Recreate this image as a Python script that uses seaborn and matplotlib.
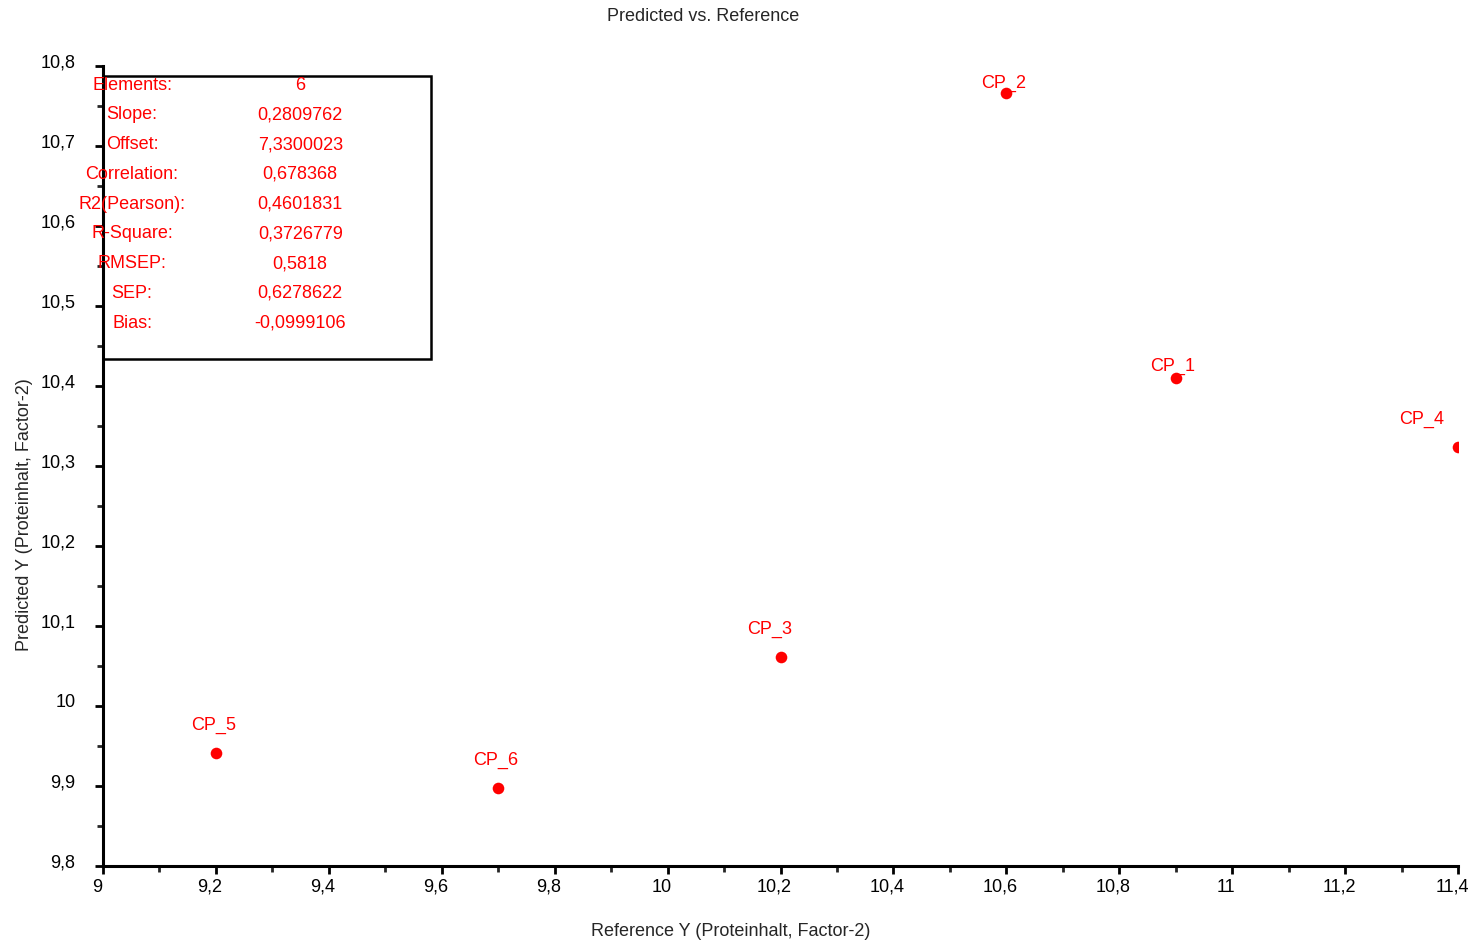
import numpy as np
import pandas as pd
import seaborn as sns
import matplotlib.pyplot as plt
import matplotlib.transforms as mtransforms
from matplotlib.patches import Rectangle
from matplotlib.ticker import FuncFormatter, MultipleLocator

# Sample values
samples = ['CP_1', 'CP_2', 'CP_3', 'CP_4', 'CP_5', 'CP_6']
reference_y = [10.9, 10.6, 10.2, 11.4, 9.2, 9.7]
predicted_y = [10.41, 10.766, 10.061, 10.324, 9.941, 9.8975]

# Statistics box
stat_names = ['Elements:', 'Slope:', 'Offset:', 'Correlation:', 'R2(Pearson):',
              'R-Square:', 'RMSEP:', 'SEP:', 'Bias:']
stat_values = ['6', '0,2809762', '7,3300023', '0,678368', '0,4601831',
               '0,3726779', '0,5818', '0,6278622', '-0,0999106']

df = pd.DataFrame({'ref': reference_y, 'pred': predicted_y, 'name': samples})

sns.set_style('ticks')
plt.rcParams['font.family'] = ['Liberation Sans', 'DejaVu Sans']

fig = plt.figure(figsize=(14.72, 9.41), dpi=100)
ax = fig.add_axes([0.0700, 0.0797, 0.9205, 0.8502])

sns.scatterplot(data=df, x='ref', y='pred', color='red', s=70,
                edgecolor='red', linewidth=0, ax=ax, zorder=3)

# label offsets in points (label placement, not data)
label_offsets = {'CP_1': (-2, 8), 'CP_2': (-2, 7), 'CP_3': (-8, 20), 'CP_4': (-26, 20),
                 'CP_5': (-2, 20), 'CP_6': (-2, 20)}
for _, row in df.iterrows():
    dx, dy = label_offsets[row['name']]
    ax.annotate(row['name'], (row['ref'], row['pred']), xytext=(dx, dy),
                textcoords='offset points', ha='center', va='center',
                color='red', fontsize=13)

ax.set_xlim(9, 11.4)
ax.set_ylim(9.8, 10.8)
ax.xaxis.set_major_locator(MultipleLocator(0.2))
ax.xaxis.set_minor_locator(MultipleLocator(0.1))
ax.yaxis.set_major_locator(MultipleLocator(0.1))
ax.yaxis.set_minor_locator(MultipleLocator(0.05))
comma = FuncFormatter(lambda v, p: ('%g' % round(v, 3)).replace('.', ','))
ax.xaxis.set_major_formatter(comma)
ax.yaxis.set_major_formatter(comma)

sns.despine(ax=ax)
for side in ['left', 'bottom']:
    ax.spines[side].set_linewidth(2.2)
    ax.spines[side].set_color('black')
ax.tick_params(axis='both', which='major', length=6, width=2, labelsize=13, colors='black')
ax.tick_params(axis='both', which='minor', length=4, width=2)
ax.tick_params(axis='y', which='major', pad=14)
ax.tick_params(axis='x', which='major', pad=3)

ax.set_xlabel('Reference Y (Proteinhalt, Factor-2)', fontsize=13)
ax.set_ylabel('Predicted Y (Proteinhalt, Factor-2)', fontsize=13)
ax.xaxis.set_label_coords(0.4635, -0.071)
ax.yaxis.set_label_coords(-0.052, 0.439)
fig.text(0.4776, 0.982, 'Predicted vs. Reference', ha='center', va='center', fontsize=13)

# statistics box
ax.add_patch(Rectangle((0.0, 0.634), 0.242, 0.353, transform=ax.transAxes,
                       fill=False, edgecolor='black', linewidth=1.8, zorder=4,
                       clip_on=False))
for i, (n, v) in enumerate(zip(stat_names, stat_values)):
    yy = 0.976 - i * 0.0372
    ax.text(0.0214, yy, n, transform=ax.transAxes, ha='center', va='center',
            color='red', fontsize=13, zorder=5)
    ax.text(0.1455, yy, v, transform=ax.transAxes, ha='center', va='center',
            color='red', fontsize=13, zorder=5)

fig.canvas.draw()
shift_x = mtransforms.ScaledTranslation(-6 / 100, 0, fig.dpi_scale_trans)
for lab in ax.get_xticklabels():
    lab.set_transform(lab.get_transform() + shift_x)
shift_y = mtransforms.ScaledTranslation(0, 5 / 100, fig.dpi_scale_trans)
for lab in ax.get_yticklabels():
    lab.set_transform(lab.get_transform() + shift_y)

fig.savefig('out.png', dpi=100)
